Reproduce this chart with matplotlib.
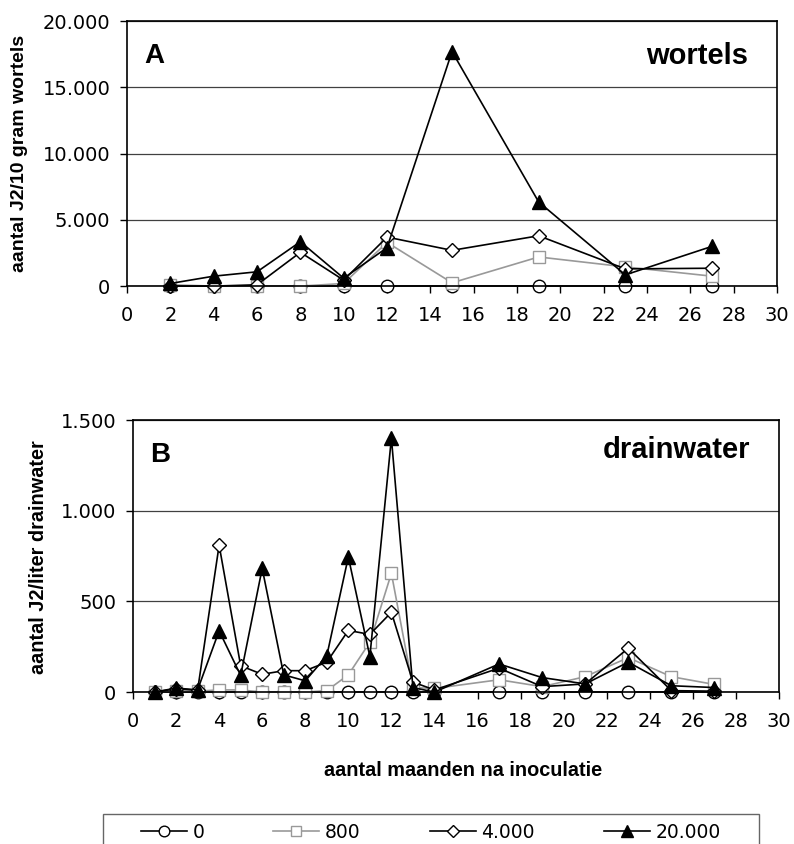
import matplotlib
matplotlib.use("Agg")
import matplotlib.pyplot as plt
from matplotlib.patches import Rectangle
from matplotlib.ticker import FuncFormatter, MultipleLocator

# months after inoculation (roots sampled less often than drain water)
months_roots = [2, 4, 6, 8, 10, 12, 15, 19, 23, 27]
months_drain = [1, 2, 3, 4, 5, 6, 7, 8, 9, 10, 11, 12, 13, 14, 17, 19, 21, 23, 25, 27]

# J2 per 10 g roots, per inoculation density
roots_0 = [0, 0, 0, 0, 0, 0, 0, 0, 0, 0]
roots_800 = [100, 0, 0, 0, 200, 3300, 250, 2200, 1450, 750]
roots_4000 = [0, 0, 100, 2550, 450, 3700, 2700, 3800, 1300, 1350]
roots_20000 = [200, 750, 1080, 3350, 600, 2900, 17700, 6350, 850, 3000]

# J2 per liter drain water
drain_0 = [0] * 20
drain_800 = [0, 5, 5, 12, 12, 0, 0, 0, 8, 95, 275, 655, 25, 20, 68, 30, 85, 190, 85, 42]
drain_4000 = [0, 18, 10, 810, 145, 98, 118, 118, 165, 340, 318, 440, 55, 12, 132, 30, 45, 242, 8, 5]
drain_20000 = [0, 22, 12, 338, 92, 682, 95, 62, 200, 745, 196, 1400, 25, 0, 155, 80, 45, 165, 35, 25]

labels = ["0", "800", "4.000", "20.000"]

tick_font = "DejaVu Sans"
bold_font = "Liberation Sans"

styles = [
    dict(color="black", marker="o", markerfacecolor="white", markeredgecolor="black", markersize=9),
    dict(color="#999999", marker="s", markerfacecolor="white", markeredgecolor="#999999", markersize=8.5),
    dict(color="black", marker="D", markerfacecolor="white", markeredgecolor="black", markersize=7),
    dict(color="black", marker="^", markerfacecolor="black", markeredgecolor="black", markersize=9.5),
]


def dotted(v, pos):
    return "{:,.0f}".format(v).replace(",", ".")


def style_axes(ax, ymax, ystep):
    ax.set_xlim(0, 30)
    ax.set_ylim(0, ymax)
    ax.xaxis.set_major_locator(MultipleLocator(2))
    ax.yaxis.set_major_locator(MultipleLocator(ystep))
    ax.yaxis.set_major_formatter(FuncFormatter(dotted))
    ax.grid(axis="y", color="#404040", linewidth=0.9)
    ax.set_axisbelow(True)
    for s in ax.spines.values():
        s.set_linewidth(1.2)
    ax.tick_params(direction="out", length=5, width=1, labelsize=14)
    ax.tick_params(axis="x", pad=9)
    ax.tick_params(axis="y", pad=7)
    for t in ax.get_xticklabels() + ax.get_yticklabels():
        t.set_fontfamily(tick_font)


fig = plt.figure(figsize=(7.94, 8.44), dpi=100)

################################################################################
# A: roots
################################################################################
ax_a = fig.add_axes([0.160, 0.661, 0.8186, 0.314])
for ys, st, lab in zip([roots_0, roots_800, roots_4000, roots_20000], styles, labels):
    ax_a.plot(months_roots, ys, linewidth=1.2, label=lab, clip_on=False, **st)
style_axes(ax_a, 20000, 5000)
ax_a.text(0.026, 0.87, "A", transform=ax_a.transAxes, fontsize=20, fontweight="bold",
          fontfamily=bold_font, va="center", ha="left")
ax_a.text(0.955, 0.87, "wortels", transform=ax_a.transAxes, fontsize=21, fontweight="bold",
          fontfamily=bold_font, va="center", ha="right")
fig.text(20 / 794, 1 - 153 / 844, "aantal J2/10 gram wortels", rotation=90, fontsize=14,
         fontweight="bold", fontfamily=bold_font, ha="center", va="center")

################################################################################
# B: drain water
################################################################################
ax_b = fig.add_axes([0.1675, 0.180, 0.8136, 0.3223])
for ys, st, lab in zip([drain_0, drain_800, drain_4000, drain_20000], styles, labels):
    ax_b.plot(months_drain, ys, linewidth=1.2, label=lab, clip_on=False, **st)
style_axes(ax_b, 1500, 500)
ax_b.text(0.026, 0.87, "B", transform=ax_b.transAxes, fontsize=20, fontweight="bold",
          fontfamily=bold_font, va="center", ha="left")
ax_b.text(0.955, 0.89, "drainwater", transform=ax_b.transAxes, fontsize=21, fontweight="bold",
          fontfamily=bold_font, va="center", ha="right")
fig.text(39 / 794, 1 - 557 / 844, "aantal J2/liter drainwater", rotation=90, fontsize=14.3,
         fontweight="bold", fontfamily=bold_font, ha="center", va="center")

fig.text(463 / 794, 1 - 770 / 844, "aantal maanden na inoculatie", fontsize=14.3,
         fontweight="bold", fontfamily=bold_font, ha="center", va="center")

# legend box runs off the bottom edge
fig.patches.append(Rectangle((103 / 794, -0.02), (759 - 103) / 794, 0.02 + 1 - 814 / 844,
                             transform=fig.transFigure, fill=False, edgecolor="#666666",
                             linewidth=1.0))
handles, names = ax_b.get_legend_handles_labels()
leg = fig.legend(handles, names, loc="center left", bbox_to_anchor=(141 / 794, 1 - 832 / 844),
                 ncol=4, frameon=False, borderaxespad=0, borderpad=0, handlelength=2.45,
                 handletextpad=0.3, columnspacing=3.68, markerscale=0.85,
                 prop={"family": tick_font, "size": 13.5})

fig.savefig("out.png", dpi=100)
